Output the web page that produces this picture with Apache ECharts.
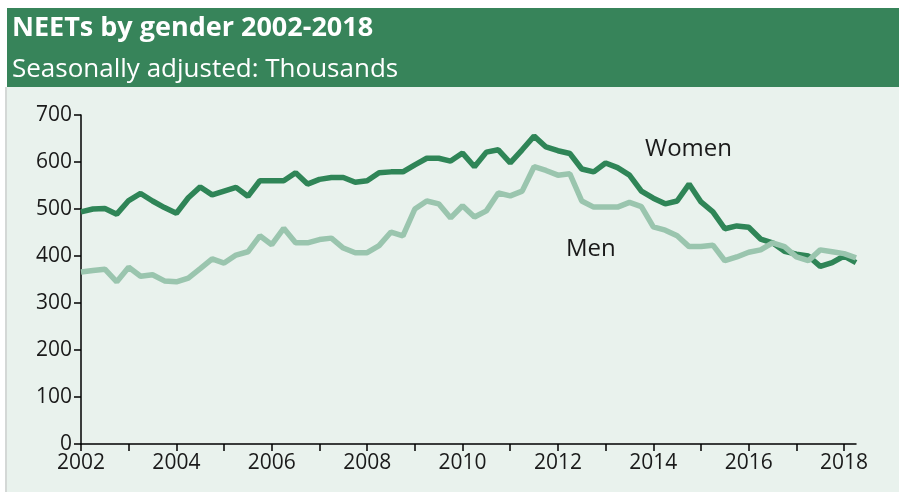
<!DOCTYPE html>
<html><head><meta charset="utf-8">
<script src="https://cdn.jsdelivr.net/npm/echarts@6/dist/echarts.min.js"></script>
<style>html,body{margin:0;padding:0;background:#fff}#c{width:899px;height:492px}</style>
</head><body><div id="c"></div>
<script>
const startYear = 2002;
const quarterStep = 0.25;
const women = [494,500,501,489,518,533,517,503,491,524,547,530,538,546,527,560,560,560,577,553,563,567,567,557,560,577,579,579,594,608,608,602,619,590,621,626,598,626,655,632,624,618,585,579,598,588,572,538,523,511,517,553,515,494,458,464,461,436,428,410,404,400,378,386,400,386];
const men = [366,369,372,345,376,357,360,347,345,353,373,394,385,402,409,443,424,459,428,428,435,438,417,407,407,422,451,443,500,517,511,481,507,483,496,534,528,538,590,582,572,575,517,504,504,504,514,505,462,455,443,420,420,423,390,398,408,413,428,420,398,390,413,409,405,396];
const xTicks = [2002,2003,2004,2005,2006,2007,2008,2009,2010,2011,2012,2013,2014,2015,2016,2017,2018];
const xLabels = [2002,2004,2006,2008,2010,2012,2014,2016,2018];
const yTicks = [0,100,200,300,400,500,600,700];
const titleText = 'NEETs by gender 2002-2018';
const subtitleText = 'Seasonally adjusted: Thousands';
const seriesNames = ['Women','Men'];

const toPairs = arr => arr.map((v,i)=>[startYear + i*quarterStep, v]);
const chart = echarts.init(document.getElementById('c'));
const font = '"Open Sans", "Noto Sans", sans-serif';
chart.setOption({
  animation:false,
  backgroundColor:'#ffffff',
  graphic:[
    {type:'rect', z:-10, shape:{x:7,y:8,width:892,height:79}, style:{fill:'#37845A'}},
    {type:'rect', z:-10, shape:{x:7,y:87,width:892,height:405}, style:{fill:'#E9F2ED'}},
    {type:'rect', z:-10, shape:{x:5,y:87,width:2,height:405}, style:{fill:'#D4D8D6'}},
    {type:'text', left:12, top:15, style:{text:titleText, fill:'#ffffff', font:'bold 27px '+font}},
    {type:'text', left:12, top:57, style:{text:subtitleText, fill:'#ffffff', font:'26px '+font}},
    {type:'text', left:645, top:137, style:{text:seriesNames[0], fill:'#1a1a1a', font:'24px '+font}},
    {type:'text', left:566, top:237, style:{text:seriesNames[1], fill:'#1a1a1a', font:'24px '+font}}
  ],
  grid:{left:81, right:43, top:115, bottom:48, containLabel:false},
  xAxis:{type:'value', min:2002, max:2018.25,
    axisLine:{lineStyle:{color:'#000', width:1.5}},
    axisTick:{customValues:xTicks, length:7, lineStyle:{color:'#000', width:1.5}},
    axisLabel:{customValues:xLabels, formatter:v=>String(v), color:'#1a1a1a', fontSize:21, fontFamily:font, margin:9},
    splitLine:{show:false}},
  yAxis:{type:'value', min:0, max:700, interval:100,
    axisLine:{show:true, lineStyle:{color:'#000', width:1.5}},
    axisTick:{show:true, length:7, lineStyle:{color:'#000', width:1.5}},
    axisLabel:{color:'#1a1a1a', fontSize:21, fontFamily:font, margin:9},
    splitLine:{show:false}},
  series:[
    {name:seriesNames[0], type:'line', data:toPairs(women), showSymbol:false, lineStyle:{color:'#2F8557', width:5.5}, itemStyle:{color:'#2F8557'}, z:2},
    {name:seriesNames[1], type:'line', data:toPairs(men), showSymbol:false, lineStyle:{color:'#9AC5AE', width:5.5}, itemStyle:{color:'#9AC5AE'}, z:3}
  ]
});
</script></body></html>
